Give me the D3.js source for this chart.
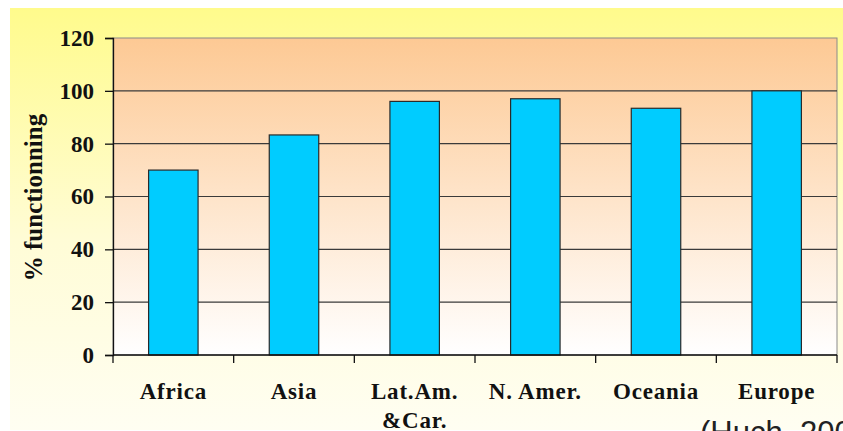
<!DOCTYPE html>
<html>
<head>
<meta charset="utf-8">
<script src="https://cdn.jsdelivr.net/npm/d3@7"></script>
<style>
  body { margin: 0; background: #fff; }
  svg { display: block; }
</style>
</head>
<body>
<div id="vis"></div>
<script>
// regions and share of functioning (%)
const regions = ['Africa', 'Asia', 'Lat.Am.\n&Car.', 'N. Amer.', 'Oceania', 'Europe']
const values = [70, 83.3, 96, 97, 93.4, 100]
const yTicks = [0, 20, 40, 60, 80, 100, 120]

const W = 843, H = 431
const margin = {left: 113, top: 38, right: 6, bottom: 76}
const width = W - margin.left - margin.right
const height = H - margin.top - margin.bottom
const serif = '"Liberation Serif", "Times New Roman", serif'

const svg = d3.select('#vis').append('svg')
    .attr('width', W)
    .attr('height', H)

const defs = svg.append('defs')
const bgGrad = defs.append('linearGradient')
    .attr('id', 'bgGrad').attr('x1', 0).attr('y1', 0).attr('x2', 0).attr('y2', 1)
bgGrad.append('stop').attr('offset', '0%').attr('stop-color', '#fffb8c')
bgGrad.append('stop').attr('offset', '55%').attr('stop-color', '#fffcd6')
bgGrad.append('stop').attr('offset', '100%').attr('stop-color', '#fffef2')

const plotGrad = defs.append('linearGradient')
    .attr('id', 'plotGrad').attr('x1', 0).attr('y1', 0).attr('x2', 0).attr('y2', 1)
plotGrad.append('stop').attr('offset', '0%').attr('stop-color', '#fdc994')
plotGrad.append('stop').attr('offset', '100%').attr('stop-color', '#ffffff')

// outer panel
svg.append('rect')
    .attr('x', 10).attr('y', 8)
    .attr('width', W - 10).attr('height', H - 9)
    .attr('fill', 'url(#bgGrad)')

const x = d3.scaleBand()
    .domain(regions)
    .range([margin.left, margin.left + width])
    .paddingInner(0.59)
    .paddingOuter(0.295)

const y = d3.scaleLinear()
    .domain([0, 120])
    .range([margin.top + height, margin.top])

// plot area
svg.append('rect')
    .attr('x', margin.left).attr('y', margin.top)
    .attr('width', width).attr('height', height)
    .attr('fill', 'url(#plotGrad)')
    .attr('stroke', '#8a8a8a')
    .attr('stroke-width', 1)

// gridlines
svg.append('g')
    .selectAll('line')
    .data(yTicks.filter(d => d > 0 && d < 120))
    .enter()
    .append('line')
        .attr('x1', margin.left).attr('x2', margin.left + width)
        .attr('y1', d => y(d)).attr('y2', d => y(d))
        .attr('stroke', '#3a3a3a')
        .attr('stroke-width', 1.2)

// bars
svg.append('g')
    .selectAll('rect')
    .data(values)
    .enter()
    .append('rect')
        .attr('x', (d, i) => x(regions[i]))
        .attr('y', d => y(d))
        .attr('width', x.bandwidth())
        .attr('height', d => y(0) - y(d))
        .attr('fill', '#00ccff')
        .attr('stroke', '#2a2a2a')
        .attr('stroke-width', 1.2)

// y axis
let yAxis = d3.axisLeft(y)
    .tickValues(yTicks)
    .tickSize(8)
    .tickPadding(11)

svg.append('g')
    .attr('class', 'y-axis')
    .attr('transform', `translate(${margin.left},0)`)
    .call(yAxis)
    .call(g => g.select('.domain').attr('stroke', '#111').attr('stroke-width', 1.3))
    .call(g => g.selectAll('.tick line').attr('stroke', '#111').attr('stroke-width', 1.3))
    .call(g => g.selectAll('.tick text')
        .attr('font-family', serif)
        .attr('font-weight', 'bold')
        .attr('font-size', 23)
        .attr('fill', '#111'))

// x axis: ticks on band boundaries
const bounds = d3.range(regions.length + 1).map(i => margin.left + i * x.step())
svg.append('line')
    .attr('x1', margin.left).attr('x2', margin.left + width)
    .attr('y1', y(0)).attr('y2', y(0))
    .attr('stroke', '#111').attr('stroke-width', 1.3)

svg.append('g')
    .selectAll('line')
    .data(bounds)
    .enter()
    .append('line')
        .attr('x1', d => d).attr('x2', d => d)
        .attr('y1', y(0)).attr('y2', y(0) + 8)
        .attr('stroke', '#111').attr('stroke-width', 1.3)

// category labels
const labels = svg.append('g')
    .selectAll('text')
    .data(regions)
    .enter()
    .append('text')
        .attr('x', d => x(d) + x.bandwidth() / 2)
        .attr('y', 399)
        .attr('text-anchor', 'middle')
        .attr('font-family', serif)
        .attr('font-weight', 'bold')
        .attr('font-size', 23)
        .attr('letter-spacing', 0.8)
        .attr('fill', '#111')

labels.selectAll('tspan')
    .data(d => d.split('\n'))
    .enter()
    .append('tspan')
        .attr('x', function() { return this.parentNode.getAttribute('x') })
        .attr('dy', (d, i) => i === 0 ? 0 : 29)
        .text(d => d)

// y label
svg.append('text')
    .attr('transform', `translate(42,${(margin.top + y(0)) / 2 + 1}) rotate(-90)`)
    .attr('text-anchor', 'middle')
    .attr('font-family', serif)
    .attr('font-weight', 'bold')
    .attr('font-size', 25)
    .attr('fill', '#111')
    .text('% functionning')

// source note, cut at the right and bottom edges as in the original
svg.append('text')
    .attr('x', 700)
    .attr('y', 443)
    .attr('font-family', '"Liberation Sans", Arial, sans-serif')
    .attr('font-size', 31)
    .attr('fill', '#222')
    .text('(Huch, 2003)')
</script>
</body>
</html>
